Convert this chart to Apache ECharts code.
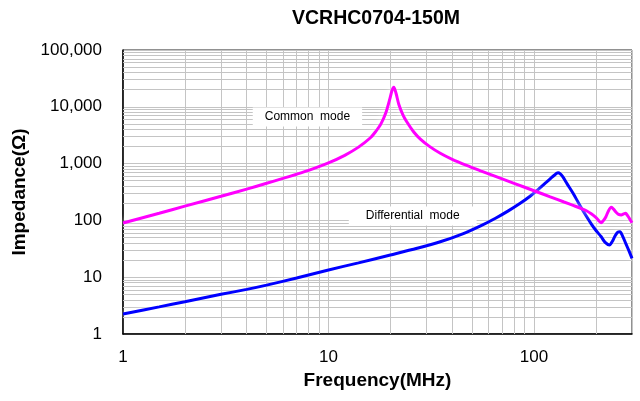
<!DOCTYPE html>
<html><head><meta charset="utf-8">
<script src="https://cdn.jsdelivr.net/npm/echarts@6/dist/echarts.min.js"></script>
<style>html,body{margin:0;padding:0;background:#fff}#c{width:640px;height:401px}</style>
</head><body><div id="c"></div>
<script>
const chartTitle = 'VCRHC0704-150M';
const xName = 'Frequency(MHz)';
const yName = 'Impedance(Ω)';
const cmLabel = 'Common  mode';
const dmLabel = 'Differential  mode';

// Common mode impedance (magenta)
const cmFreq = [1, 1.5, 2, 3, 4, 5, 6, 7, 8, 10, 12, 14, 16, 17, 18, 19, 19.8, 20.4, 20.8, 21.3, 22, 23, 24, 26, 28, 31, 35, 40, 47, 55, 65, 80, 100, 120, 140, 155, 170, 180, 190, 200, 206, 212, 218, 224, 231, 238, 245, 251, 258, 266, 273, 279, 286, 293, 300];
const cmZ    = [90, 134, 178, 266, 356, 450, 548, 650, 760, 1030, 1400, 1950, 2850, 3700, 5000, 7800, 13000, 19500, 22000, 17500, 11000, 7300, 5500, 3600, 2700, 2010, 1520, 1190, 930, 747, 596, 450, 333, 260, 211, 184, 162, 148, 131, 113, 100, 91, 100, 116, 150, 170, 155, 139, 128, 125, 130, 133, 120, 105, 91];

// Differential mode impedance (blue)
const dmFreq = [1, 1.5, 2, 3, 4, 5, 7, 10, 14, 20, 27, 35, 45, 55, 65, 75, 85, 95, 105, 115, 122, 126, 129, 131, 134, 138, 145, 155, 165, 176, 190, 200, 212, 222, 233, 240, 248, 256, 262, 270, 280, 290, 300];
const dmZ    = [2.25, 3.0, 3.7, 5.0, 6.1, 7.25, 9.7, 13.4, 17.9, 24.6, 32.3, 42, 58, 80, 109, 147, 196, 261, 352, 471, 570, 630, 675, 692, 665, 590, 440, 300, 201, 135, 87, 67, 52, 41, 37, 42, 53, 62, 63, 53, 39, 29, 21.5];

// Label anchor positions (data space)
const cmLabelAt = [7.9, 6600];
const dmLabelAt = [25.7, 119];

const xMin = 1, xMax = 300, yMin = 1, yMax = 100000;

// minor grid lines at 2..9 of each decade
const xMinor = [];
for (let d = 1; d < xMax; d *= 10) for (let k = 2; k <= 9; k++) if (k * d < xMax) xMinor.push(k * d);
const yMinor = [];
for (let d = 1; d < yMax; d *= 10) for (let k = 2; k <= 9; k++) yMinor.push(k * d);

const FONT = "'Liberation Sans', Arial, sans-serif";
const gridColor = '#c4c4c4';

const chart = echarts.init(document.getElementById('c'), null, {renderer: 'canvas'});
const minorLines = xMinor.map(v => ({xAxis: v})).concat(yMinor.map(v => ({yAxis: v})));

chart.setOption({
  animation: false,
  backgroundColor: '#fff',
  graphic: [{
    type: 'text', x: 376, y: 19,
    style: {text: chartTitle, font: 'bold 19.5px ' + FONT, fill: '#000', textAlign: 'center', textVerticalAlign: 'middle'}
  }],
  grid: {left: 123, right: 8, top: 50, bottom: 67, show: true, borderColor: '#222', borderWidth: 1, backgroundColor: '#fff'},
  xAxis: {
    type: 'log', logBase: 10, min: xMin, max: xMax,
    name: xName, nameLocation: 'middle', nameGap: 37,
    nameTextStyle: {fontFamily: FONT, fontWeight: 'bold', fontSize: 19, color: '#000'},
    axisLine: {lineStyle: {color: '#000', width: 1.5}},
    axisTick: {show: false},
    axisLabel: {fontFamily: FONT, fontSize: 17, color: '#000', margin: 15, showMaxLabel: false,
      formatter: v => String(Math.round(v))},
    splitLine: {show: true, lineStyle: {color: gridColor, width: 1}}
  },
  yAxis: {
    type: 'log', logBase: 10, min: yMin, max: yMax,
    name: yName, nameLocation: 'middle', nameGap: 85,
    nameTextStyle: {fontFamily: FONT, fontWeight: 'bold', fontSize: 19, color: '#000'},
    axisLine: {lineStyle: {color: '#000', width: 1.5}},
    axisTick: {show: false},
    axisLabel: {fontFamily: FONT, fontSize: 17, color: '#000', margin: 21,
      formatter: v => Math.round(v).toLocaleString('en-US')},
    splitLine: {show: true, lineStyle: {color: gridColor, width: 1}}
  },
  series: [
    {
      type: 'line', data: [], silent: true, z: 1,
      markLine: {silent: true, z: 1, symbol: ['none', 'none'], label: {show: false},
        lineStyle: {color: gridColor, type: 'solid', width: 1}, emphasis: {disabled: true},
        data: minorLines}
    },
    {
      name: 'Differential mode', type: 'line', z: 3,
      data: dmFreq.map((f, i) => [f, dmZ[i]]),
      showSymbol: false, smooth: 0.3,
      lineStyle: {color: '#0000ff', width: 3, shadowColor: 'rgba(255,255,255,0.9)', shadowBlur: 5},
      markPoint: {symbol: 'rect', symbolSize: 0, z: 4,
        label: {show: true, formatter: dmLabel, fontFamily: FONT, fontSize: 12, color: '#000',
          backgroundColor: '#fff', padding: [4, 17, 3, 17]},
        data: [{coord: dmLabelAt}]}
    },
    {
      name: 'Common mode', type: 'line', z: 4,
      data: cmFreq.map((f, i) => [f, cmZ[i]]),
      showSymbol: false, smooth: 0.3,
      lineStyle: {color: '#ff00ff', width: 3, shadowColor: 'rgba(255,255,255,0.95)', shadowBlur: 6},
      markPoint: {symbol: 'rect', symbolSize: 0, z: 4,
        label: {show: true, formatter: cmLabel, fontFamily: FONT, fontSize: 12, color: '#000',
          backgroundColor: '#fff', padding: [4, 12, 3, 12]},
        data: [{coord: cmLabelAt}]}
    }
  ]
});
</script></body></html>
